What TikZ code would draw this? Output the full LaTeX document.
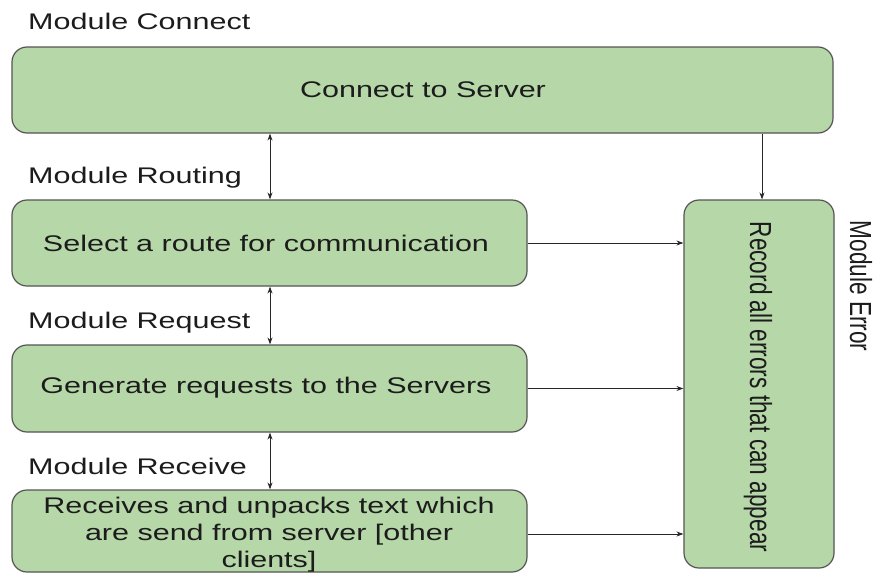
\documentclass[tikz,border=0pt]{standalone}
\usepackage{fontspec}
\setmainfont{Liberation Sans}
\usetikzlibrary{arrows.meta}
\definecolor{boxfill}{HTML}{B6D7A8}
\definecolor{boxline}{HTML}{555555}
\definecolor{txt}{HTML}{1C1C1C}
\newcommand{\hs}[1]{\scalebox{1.35}[1]{#1}}
\newcommand{\vs}[1]{\scalebox{1}[1.35]{#1}}
\tikzset{
  modbox/.style={draw=boxline, line width=1.2pt, fill=boxfill, rounded corners=15pt, inner sep=0pt},
  htext/.style={font=\fontsize{22.6}{27}\selectfont, text=txt, inner sep=0pt, align=center},
  vtext/.style={font=\fontsize{22.6}{27}\selectfont, text=txt, inner sep=0pt, rotate=-90},
  conn/.style={draw=black!85, line width=0.9pt, -{Stealth[length=7pt,width=5pt]}},
  dconn/.style={draw=black!85, line width=0.9pt, {Stealth[length=7pt,width=5pt]}-{Stealth[length=7pt,width=5pt]}}
}
\begin{document}
\begin{tikzpicture}[x=1pt, y=-1pt]
\useasboundingbox (0,0) rectangle (878,573);
\fill[white] (0,0) rectangle (878,573);

% boxes
\node[modbox, minimum width=821pt, minimum height=86pt] (b1) at (422.5,90) {};
\node[modbox, minimum width=515pt, minimum height=86pt] (b2) at (269.5,243) {};
\node[modbox, minimum width=515pt, minimum height=87pt] (b3) at (269.5,388.5) {};
\node[modbox, minimum width=515pt, minimum height=82pt] (b4) at (269.5,531) {};
\node[modbox, minimum width=150pt, minimum height=368pt] (err) at (759,384) {};

% box texts
\node[htext] (t1) at (423,90) {\hs{Connect to Server}};
\node[htext] (t2) at (266,243) {\hs{Select a route for communication}};
\node[htext] (t3) at (266,388) {\hs{Generate requests to the Servers}};
\node[htext] (t4) at (269,535) {\hs{\begin{tabular}{@{}c@{}}Receives and unpacks text which\\are send from server [other\\clients]\end{tabular}}};
\node[vtext] (te) at (758,387) {\vs{Record all errors that can appear}};

% module labels
\node[htext, anchor=west] (l1) at (28,21) {\hs{Module Connect}};
\node[htext, anchor=west] (l2) at (28,178) {\hs{Module Routing}};
\node[htext, anchor=west] (l3) at (28,323) {\hs{Module Request}};
\node[htext, anchor=west] (l4) at (28,466) {\hs{Module Receive}};
\node[vtext] (l5) at (861,286) {\vs{Module Error}};

% connectors
\draw[dconn] (b1.south -| 270,0) -- (b2.north -| 270,0);
\draw[dconn] (b2.south -| 270,0) -- (b3.north -| 270,0);
\draw[dconn] (b3.south -| 270,0) -- (b4.north -| 270,0);
\draw[conn] (b1.south -| 762,0) -- (err.north -| 762,0);
\draw[conn] (b2.east) -- (err.west |- b2.east);
\draw[conn] (b3.east) -- (err.west |- b3.east);
\draw[conn] (b4.east |- 0,534) -- (err.west |- 0,534);
\end{tikzpicture}
\end{document}
